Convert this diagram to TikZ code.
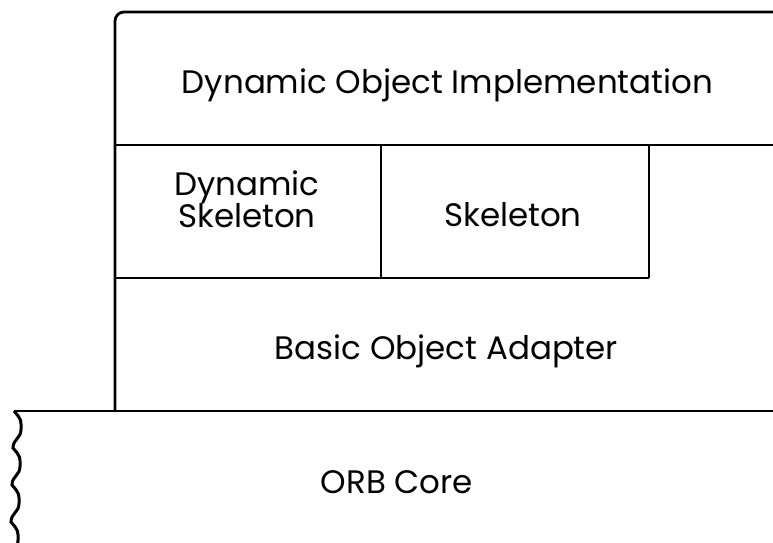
\documentclass[tikz,border=0pt]{standalone}
\usepackage{fontspec}
\setmainfont{Poppins}
\begin{document}
\begin{tikzpicture}[x=1pt,y=-1pt,line width=2.8pt,
  lbl/.style={font=\fontsize{32.5}{32}\selectfont, inner sep=0pt, anchor=base}]
\useasboundingbox (0,0) rectangle (773,542);
% outer frame
\draw[rounded corners=9pt] (775,12) -- (115,12) -- (115,411);
\draw (115,145) -- (775,145);
\draw (381,145) -- (381,278);
\draw (649,145) -- (649,278);
\draw (115,278) -- (649,278);
\draw (14,411) -- (775,411);
% wavy edge
\draw[line width=3pt] (14,411)
  \foreach \i in {0,1,2,3} { .. controls ++(8,9) and ++(0,-9) .. ++(7,18.5) .. controls ++(0,9) and ++(0,-9) .. ++(-8,18.5) }
  ;
% labels
\node[lbl] (doi) at (447.5,93) {Dynamic Object Implementation};
\node[lbl] (dsk1) at (247,195) {Dynamic};
\node[lbl] (dsk2) at (247,227) {Skeleton};
\node[lbl] (sk) at (513,226) {Skeleton};
\node[lbl] (boa) at (446.5,359) {Basic Object Adapter};
\node[lbl] (orb) at (397,493) {ORB Core};
\end{tikzpicture}
\end{document}
